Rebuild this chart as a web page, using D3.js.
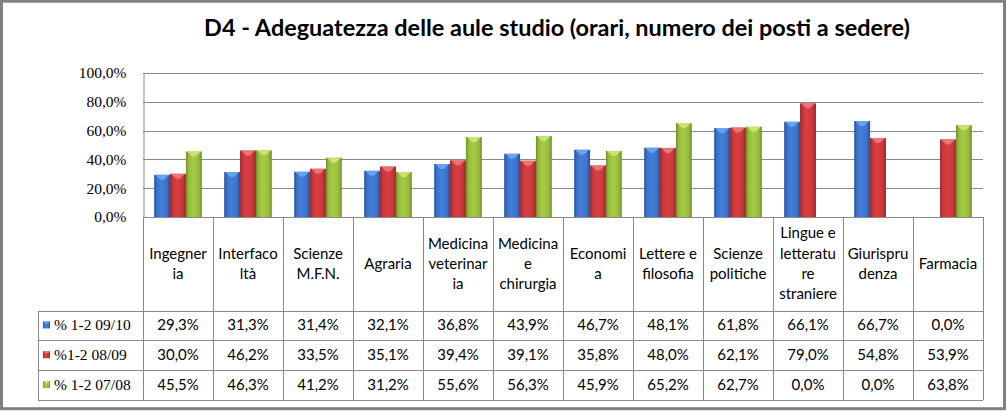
<!DOCTYPE html>
<html><head><meta charset="utf-8">
<script src="https://cdn.jsdelivr.net/npm/d3@7"></script>
<style>body{margin:0;background:#fff}svg{display:block}</style>
</head><body>
<svg id="c" width="1007" height="411"></svg>
<script>
const title = "D4 - Adeguatezza delle aule studio (orari, numero dei posti a sedere)";
const categories = ["Ingegneria","Interfacoltà","Scienze M.F.N.","Agraria","Medicina veterinaria","Medicina e chirurgia","Economia","Lettere e filosofia","Scienze politiche","Lingue e letterature straniere","Giurisprudenza","Farmacia"];
const categoryLines = [["Ingegner","ia"],["Interfaco","ltà"],["Scienze","M.F.N."],["Agraria"],["Medicina","veterinar","ia"],["Medicina","e","chirurgia"],["Economi","a"],["Lettere e","filosofia"],["Scienze","politiche"],["Lingue e","letteratu","re","straniere"],["Giurispru","denza"],["Farmacia"]];
const seriesNames = ["% 1-2 09/10","%1-2 08/09","% 1-2 07/08"];
const s0910 = [29.3,31.3,31.4,32.1,36.8,43.9,46.7,48.1,61.8,66.1,66.7,0.0];
const s0809 = [30.0,46.2,33.5,35.1,39.4,39.1,35.8,48.0,62.1,79.0,54.8,53.9];
const s0708 = [45.5,46.3,41.2,31.2,55.6,56.3,45.9,65.2,62.7,0.0,0.0,63.8];
const yTicks = [0,20,40,60,80,100];
const seriesValues = [s0910, s0809, s0708];
const colors = [
  {base:"#3d73c9", edge:"#24509a", light:"#6ea6ee"},
  {base:"#c8393b", edge:"#97222a", light:"#ec7a7a"},
  {base:"#98bb3e", edge:"#6f8e27", light:"#cde67a"}
];

const svg = d3.select("#c");
const W = 1007, H = 411;
const L = 143, R = 983, T = 73, B = 217;
const headerBottom = 310.5, rowH = 29.85, legendLeft = 38;
const lineCol = "#8a8a8a";
const catFont = "Lato, 'Open Sans', sans-serif";
const serifFont = "'Liberation Serif', 'DejaVu Serif', serif";

// frame
svg.append("rect").attr("x",0).attr("y",0).attr("width",W).attr("height",H).attr("fill","#fff");
svg.append("rect").attr("x",1.5).attr("y",1.2).attr("width",W-4).attr("height",H-3.5)
  .attr("fill","none").attr("stroke","#808080").attr("stroke-width",3);

// gradients
const defs = svg.append("defs");
colors.forEach((c,i)=>{
  const g = defs.append("linearGradient").attr("id","g"+i).attr("x1","0").attr("x2","1").attr("y1","0").attr("y2","0");
  g.append("stop").attr("offset","0%").attr("stop-color",c.edge);
  g.append("stop").attr("offset","18%").attr("stop-color",c.base);
  g.append("stop").attr("offset","45%").attr("stop-color",d3.color(c.base).brighter(0.25));
  g.append("stop").attr("offset","80%").attr("stop-color",c.base);
  g.append("stop").attr("offset","100%").attr("stop-color",c.edge);
});

// title
const tt = svg.append("text").attr("x",557).attr("y",36).attr("text-anchor","middle")
  .attr("font-family",catFont).attr("font-weight","bold").attr("font-size",21).attr("fill","#000").text(title);
const tw = tt.node().getComputedTextLength();
tt.attr("font-size", 21*706/tw);

const y = d3.scaleLinear().domain([0,100]).range([B,T]);
const x0 = d3.scaleBand().domain(categories).range([L,R]).padding(0);
const x1 = d3.scaleBand().domain(seriesNames).range([11.2, x0.bandwidth()-11.2]).padding(0);

// gridlines
svg.append("g").selectAll("line").data(yTicks).join("line")
  .attr("x1",L).attr("x2",R).attr("y1",d=>Math.round(y(d))+0.5).attr("y2",d=>Math.round(y(d))+0.5)
  .attr("stroke",lineCol).attr("stroke-width",1);

// y axis
const yAxis = d3.axisLeft(y).tickValues(yTicks).tickSize(0).tickPadding(17)
  .tickFormat(d=>d3.format(".1f")(d).replace(".",",")+"%");
const ya = svg.append("g").attr("transform",`translate(${L+0.5},0)`).call(yAxis);
ya.attr("font-family",serifFont).attr("font-size",15.5);
ya.select(".domain").attr("stroke",lineCol);
ya.selectAll("text").style("font-family",serifFont).style("font-size","15.5px").attr("fill","#000");

// bars
const barData = [];
categories.forEach((c,ci)=>seriesNames.forEach((s,si)=>{
  const v = seriesValues[si][ci];
  if (v>0) barData.push({c,s,si,v});
}));
const bars = svg.append("g").selectAll("g").data(barData).join("g");
bars.append("rect")
  .attr("x",d=>x0(d.c)+x1(d.s)).attr("y",d=>y(d.v))
  .attr("width",x1.bandwidth()).attr("height",d=>B-y(d.v))
  .attr("fill",d=>`url(#g${d.si})`);
bars.append("path")
  .attr("d",d=>{const bx=x0(d.c)+x1(d.s), by=y(d.v), w=x1.bandwidth();
    return `M${bx+1},${by}L${bx+w-1},${by}L${bx+w*0.62},${by+5}L${bx+w*0.38},${by+5}Z`;})
  .attr("fill",d=>colors[d.si].light).attr("opacity",0.9);

// table lines
const tg = svg.append("g").attr("stroke",lineCol).attr("stroke-width",1).attr("fill","none");
const bounds = categories.map(c=>x0(c)).concat([R]);
bounds.forEach(bx=>{
  tg.append("line").attr("x1",Math.round(bx)+0.5).attr("x2",Math.round(bx)+0.5).attr("y1",B).attr("y2",headerBottom+3*rowH);
});
tg.append("line").attr("x1",L).attr("x2",R).attr("y1",B+0.5).attr("y2",B+0.5);
for (let r=0;r<=3;r++){
  const ry = Math.round(headerBottom + r*rowH)+0.5;
  tg.append("line").attr("x1",legendLeft).attr("x2",R).attr("y1",ry).attr("y2",ry);
}
tg.append("line").attr("x1",legendLeft+0.5).attr("x2",legendLeft+0.5).attr("y1",Math.round(headerBottom)+0.5).attr("y2",Math.round(headerBottom+3*rowH)+0.5);

// header labels
const lineH = 20.2;
categories.forEach((c,ci)=>{
  const lines = categoryLines[ci];
  const cx = x0(c)+x0.bandwidth()/2;
  const cy = (B+headerBottom)/2;
  const t = svg.append("text").attr("text-anchor","middle").attr("font-family",catFont).attr("font-size",15).attr("fill","#000");
  lines.forEach((ln,li)=>{
    t.append("tspan").attr("x",cx).attr("y",cy + (li-(lines.length-1)/2)*lineH + 5).text(ln);
  });
});

// values
const fmt = v=>d3.format(".1f")(v).replace(".",",")+"%";
seriesNames.forEach((s,si)=>{
  const ry = headerBottom + si*rowH + rowH/2 + 5;
  categories.forEach((c,ci)=>{
    svg.append("text").attr("x",x0(c)+x0.bandwidth()/2).attr("y",ry).attr("text-anchor","middle")
      .attr("font-family",catFont).attr("font-size",15).attr("fill","#000").text(fmt(seriesValues[si][ci]));
  });
  // legend key
  const ky = headerBottom + si*rowH + rowH/2 - 4;
  svg.append("rect").attr("x",43).attr("y",ky).attr("width",7).attr("height",7).attr("fill",`url(#g${si})`);
  svg.append("rect").attr("x",44.5).attr("y",ky).attr("width",4).attr("height",2).attr("fill",colors[si].light);
  svg.append("text").attr("x",54).attr("y",ry).attr("font-family",serifFont).attr("font-size",15.5).attr("fill","#000").text(s);
});
</script>
</body></html>
